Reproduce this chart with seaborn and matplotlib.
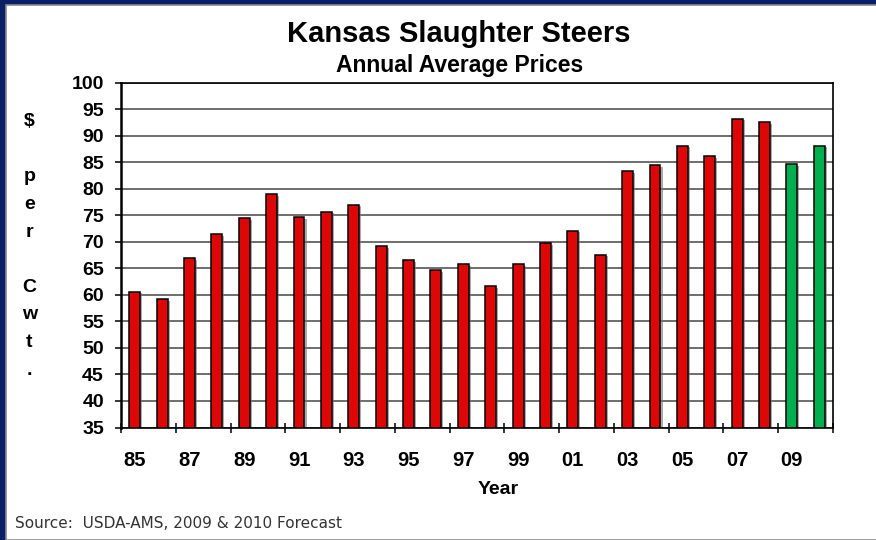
import matplotlib
matplotlib.use("Agg")
import matplotlib.pyplot as plt
import matplotlib.patheffects as pe
from matplotlib.patches import Rectangle
from matplotlib.ticker import FixedLocator
import seaborn as sns
import pandas as pd

# Kansas slaughter steer prices, annual averages ($ per cwt)
years = list(range(1985, 2011))
prices = [60.6, 59.2, 66.9, 71.4, 74.4, 79.0, 74.7, 75.7, 77.0,
          69.2, 66.6, 64.6, 65.8, 61.7, 65.8, 69.7, 72.1, 67.6,
          83.3, 84.4, 88.1, 86.2, 93.2, 92.5, 84.7, 88.1]
kinds = ["Actual"] * 24 + ["Forecast"] * 2
ylabel_chars = ["$", "", "p", "e", "r", "", "C", "w", "t", "."]

df = pd.DataFrame({"year": [f"{y % 100:02d}" for y in years],
                   "price": prices, "kind": kinds})

sns.set_theme(style="white")
plt.rcParams["font.family"] = ["Liberation Sans", "DejaVu Sans"]

W, H = 876, 540
fig = plt.figure(figsize=(W / 100, H / 100), dpi=100, facecolor="#0b1f66")

# white slide panel inside the navy frame
fig.patches.append(Rectangle((6 / W, 0), 1.01 - 6 / W, 1 - 5 / H,
                             transform=fig.transFigure, facecolor="white",
                             edgecolor="#8a8a8a", linewidth=1.2, zorder=-1))

ax = fig.add_axes([121 / W, 1 - 427.5 / H, 712 / W, (427.5 - 82.7) / H])
ax.set_facecolor("white")

sns.barplot(data=df, x="year", y="price", hue="kind",
            palette={"Actual": "#de0707", "Forecast": "#00b050"},
            saturation=1, dodge=False, width=0.4, edgecolor="black",
            linewidth=1.1, legend=False, ax=ax)

for p in ax.patches:
    p.set_path_effects([pe.SimplePatchShadow(offset=(1.5, -1.2),
                                             shadow_rgbFace=(0.45, 0.45, 0.45),
                                             alpha=0.6),
                        pe.Normal()])

ax.set_ylim(35, 100)
ax.set_xlim(-0.5, len(years) - 0.5)
ax.set_yticks(range(35, 101, 5))
ax.yaxis.grid(True, color="#4d4d4d", linewidth=1.15)
ax.set_axisbelow(True)

# labels every other year; tick marks on the boundaries between pairs
ax.xaxis.set_major_locator(FixedLocator(list(range(0, len(years), 2))))
ax.set_xticklabels(df["year"].iloc[::2])
ax.xaxis.set_minor_locator(FixedLocator([i - 0.5 for i in range(0, len(years) + 1, 2)]))
ax.tick_params(axis="x", which="major", length=0, pad=17, labelsize=14.5)
ax.tick_params(axis="x", which="minor", bottom=True, direction="inout",
               length=7, width=1.1, color="black")
ax.tick_params(axis="y", left=True, direction="out", length=4.3, width=1.1,
               color="black", pad=8, labelsize=14)
for lab in ax.get_xticklabels() + ax.get_yticklabels():
    lab.set_fontweight("bold")
    lab.set_color("black")

ax.set_xlabel("Year", fontsize=14, fontweight="bold", color="black")
ax.xaxis.set_label_coords(0.53, -0.155)
ax.set_ylabel("")

for side in ["left", "top", "right", "bottom"]:
    ax.spines[side].set_visible(True)
    ax.spines[side].set_color("black")
    ax.spines[side].set_linewidth(1.2)
ax.spines["left"].set_linewidth(1.8)

fig.text(459 / W, 1 - 41.7 / H, "Kansas Slaughter Steers", ha="center",
         va="baseline", fontsize=21, fontweight="bold", color="black")
fig.text(460 / W, 1 - 72 / H, "Annual Average Prices", ha="center",
         va="baseline", fontsize=16.5, fontweight="bold", color="black")

# vertical "$ per Cwt." axis caption, one letter per line
for i, ch in enumerate(ylabel_chars):
    if ch:
        fig.text(29.5 / W, 1 - (121.7 + i * 27.6) / H, ch, ha="center",
                 va="center", fontsize=14, fontweight="bold", color="black")

fig.text(15 / W, 1 - 523 / H, "Source:  USDA-AMS, 2009 & 2010 Forecast",
         ha="left", va="center", fontsize=11, color="#333333",
         family="DejaVu Sans")

fig.savefig("out.png", dpi=100, facecolor=fig.get_facecolor())
